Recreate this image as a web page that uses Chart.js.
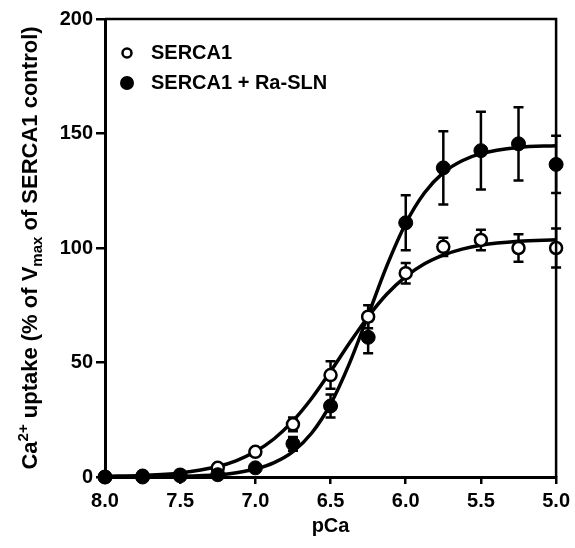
<!DOCTYPE html>
<html>
<head>
<meta charset="utf-8">
<script src="https://cdn.jsdelivr.net/npm/chart.js@4.4.1/dist/chart.umd.min.js"></script>
<style>
  html, body { margin: 0; padding: 0; background: #fff; }
  #wrap { width: 575px; height: 548px; }
</style>
</head>
<body>
<div id="wrap"><canvas id="chart" width="575" height="548"></canvas></div>
<script>
// ==================================================
// DATA
// ==================================================
const pCa = [8.0, 7.75, 7.5, 7.25, 7.0, 6.75, 6.5, 6.25, 6.0, 5.75, 5.5, 5.25, 5.0];

// SERCA1 (open circles)
const serca1 = [0, 0.5, 1, 4, 11, 23, 44.5, 70, 89, 100.5, 103.5, 100, 100];
const serca1Err = [0, 0, 0, 1, 1.5, 3, 6, 5, 4.5, 4, 4.5, 6, 8.5];

// SERCA1 + Ra-SLN (filled circles)
const sercaSln = [0, 0, 0.5, 1, 4, 14.5, 31, 61, 111, 135, 142.5, 145.5, 136.5];
const sercaSlnErr = [0, 0, 0, 0.5, 1, 3, 5, 7, 12, 16, 17, 16, 12.5];

// fitted curves
const fitPCa = [8.0, 7.75, 7.5, 7.25, 7.125, 7.0, 6.875, 6.75, 6.625, 6.5, 6.375, 6.25, 6.125, 6.0, 5.875, 5.75, 5.625, 5.5, 5.25, 5.0];
const serca1Fit = [0.3, 0.7, 1.8, 4.6, 7.2, 11.1, 16.7, 24.5, 34.4, 46.1, 58.4, 70, 79.9, 87.5, 93.1, 96.9, 99.5, 101.2, 102.9, 103.6];
const sercaSlnFit = [0.03, 0.09, 0.3, 1.0, 1.9, 3.5, 6.3, 11.1, 19.2, 31.8, 49.5, 70.7, 92.3, 110.7, 124.1, 132.9, 138.1, 141.2, 143.9, 144.7];

const xTicks = [8.0, 7.5, 7.0, 6.5, 6.0, 5.5, 5.0];
const yTicks = [0, 50, 100, 150, 200];

const legendLabels = ["SERCA1", "SERCA1 + Ra-SLN"];

// ==================================================
// HELPERS
// ==================================================
const toXY = (xs, ys) => xs.map((x, i) => ({ x: x, y: ys[i] }));
const FONT = "'Liberation Sans', Arial, Helvetica, sans-serif";

// error bars, top/right frame, legend and y title
const decor = {
  id: "decor",
  beforeDatasetsDraw(chart) {
    const { ctx, scales } = chart;
    const bars = [
      [serca1, serca1Err],
      [sercaSln, sercaSlnErr],
    ];
    ctx.save();
    ctx.strokeStyle = "#000";
    ctx.lineWidth = 2.5;
    bars.forEach(([vals, errs]) => {
      vals.forEach((v, i) => {
        if (!errs[i]) return;
        const x = scales.x.getPixelForValue(pCa[i]);
        const yt = scales.y.getPixelForValue(v + errs[i]);
        const yb = scales.y.getPixelForValue(v - errs[i]);
        ctx.beginPath();
        ctx.moveTo(x, yt);
        ctx.lineTo(x, yb);
        ctx.moveTo(x - 5, yt);
        ctx.lineTo(x + 5, yt);
        ctx.moveTo(x - 5, yb);
        ctx.lineTo(x + 5, yb);
        ctx.stroke();
      });
    });
    ctx.restore();
  },
  afterDraw(chart) {
    const { ctx, chartArea } = chart;
    const { left, right, top, bottom } = chartArea;
    ctx.save();
    // frame
    ctx.strokeStyle = "#000";
    ctx.lineWidth = 2.5;
    ctx.beginPath();
    ctx.moveTo(left, top);
    ctx.lineTo(right, top);
    ctx.lineTo(right, bottom);
    ctx.stroke();

    // legend
    ctx.fillStyle = "#000";
    ctx.lineWidth = 2.5;
    ctx.beginPath();
    ctx.arc(127, 53, 4.5, 0, Math.PI * 2);
    ctx.stroke();
    ctx.beginPath();
    ctx.arc(127, 83, 7, 0, Math.PI * 2);
    ctx.fill();
    ctx.font = "bold 20px " + FONT;
    ctx.textBaseline = "middle";
    ctx.textAlign = "left";
    ctx.fillText(legendLabels[0], 151, 53);
    ctx.fillText(legendLabels[1], 151, 83);

    // y axis title with super/subscripts
    ctx.translate(37, (top + bottom) / 2);
    ctx.rotate(-Math.PI / 2);
    const big = "bold 22px " + FONT;
    const small = "bold 15px " + FONT;
    const parts = [
      ["Ca", big, 0],
      ["2+", small, -9],
      [" uptake (% of V", big, 0],
      ["max", small, 5],
      [" of SERCA1 control)", big, 0],
    ];
    let total = 0;
    parts.forEach(([t, f]) => {
      ctx.font = f;
      total += ctx.measureText(t).width;
    });
    let cx = -total / 2;
    ctx.textBaseline = "alphabetic";
    parts.forEach(([t, f, dy]) => {
      ctx.font = f;
      ctx.fillText(t, cx, dy);
      cx += ctx.measureText(t).width;
    });
    ctx.restore();
  },
};

// ==================================================
// CHART
// ==================================================
const ctx = document.getElementById("chart").getContext("2d");
const myChart = new Chart(ctx, {
  type: "line",
  data: {
    datasets: [
      {
        label: legendLabels[1],
        data: toXY(pCa, sercaSln),
        showLine: false,
        pointRadius: 7,
        pointBorderWidth: 1,
        pointBackgroundColor: "#000",
        pointBorderColor: "#000",
        clip: false,
      },
      {
        label: legendLabels[0],
        data: toXY(pCa, serca1),
        showLine: false,
        pointRadius: 6,
        pointBorderWidth: 2.5,
        pointBackgroundColor: "#fff",
        pointBorderColor: "#000",
        clip: false,
      },
      {
        label: "SERCA1 fit",
        data: toXY(fitPCa, serca1Fit),
        borderColor: "#000",
        borderWidth: 3.5,
        pointRadius: 0,
        cubicInterpolationMode: "monotone",
        fill: false,
        clip: false,
      },
      {
        label: "SERCA1 + Ra-SLN fit",
        data: toXY(fitPCa, sercaSlnFit),
        borderColor: "#000",
        borderWidth: 3.5,
        pointRadius: 0,
        cubicInterpolationMode: "monotone",
        fill: false,
        clip: false,
      },
    ],
  },
  options: {
    responsive: false,
    animation: false,
    layout: { padding: { top: 19, right: 18, left: 0, bottom: 10 } },
    plugins: {
      legend: { display: false },
      tooltip: { enabled: false },
    },
    scales: {
      x: {
        type: "linear",
        reverse: true,
        min: 5,
        max: 8,
        afterBuildTicks: (s) => {
          s.ticks = xTicks.map((v) => ({ value: v }));
        },
        afterFit: (s) => {
          s.height = 61;
        },
        grid: {
          drawOnChartArea: false,
          tickLength: 7,
          lineWidth: 2.5,
          tickColor: "#000",
        },
        border: { color: "#000", width: 3 },
        ticks: {
          color: "#000",
          padding: 5,
          font: { family: FONT, size: 20, weight: "bold" },
          callback: (v) => Number(v).toFixed(1),
        },
        title: {
          display: true,
          text: "pCa",
          color: "#000",
          padding: 0,
          font: { family: FONT, size: 20, weight: "bold" },
        },
      },
      y: {
        min: 0,
        max: 200,
        afterBuildTicks: (s) => {
          s.ticks = yTicks.map((v) => ({ value: v }));
        },
        afterFit: (s) => {
          s.width = 105;
        },
        grid: {
          drawOnChartArea: false,
          tickLength: 9,
          lineWidth: 2.5,
          tickColor: "#000",
        },
        border: { color: "#000", width: 3 },
        ticks: {
          color: "#000",
          padding: 3,
          font: { family: FONT, size: 20, weight: "bold" },
        },
      },
    },
  },
  plugins: [decor],
});
</script>
</body>
</html>
